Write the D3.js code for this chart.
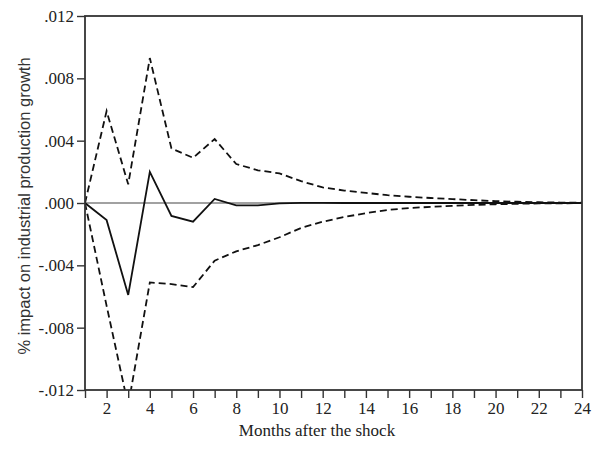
<!DOCTYPE html>
<html>
<head>
<meta charset="utf-8">
<script src="https://cdn.jsdelivr.net/npm/d3@7"></script>
<style>
  html, body { margin: 0; padding: 0; background: #fff; }
  svg { display: block; }
</style>
</head>
<body>
<svg id="chart" width="592" height="449"></svg>
<script>
// ---- data ----
const months = d3.range(1, 25);
const irf = [0, -0.0011, -0.0059, 0.0020, -0.00083, -0.0012, 0.00026, -0.00015, -0.00015, -0.00003,
             0.00001, 0.00001, 0, 0, 0, 0, 0, 0, 0, 0, 0, 0, 0, 0];
const upper = [0, 0.0059, 0.0012, 0.0093, 0.0035, 0.0029, 0.0041, 0.0025, 0.0021, 0.0019,
               0.0014, 0.0010, 0.0008, 0.00065, 0.0005, 0.0004, 0.00032, 0.00025, 0.00018, 0.00012,
               0.00008, 0.00005, 0.00003, 0.00002];
const lower = [0, -0.0066, -0.0130, -0.0051, -0.0052, -0.0054, -0.0037, -0.0031, -0.0027, -0.0022,
               -0.0016, -0.0012, -0.0009, -0.00065, -0.00045, -0.00032, -0.00025, -0.00018, -0.00012, -0.00008,
               -0.00005, -0.00003, -0.00002, -0.00001];
const yTicks = [-0.012, -0.008, -0.004, 0, 0.004, 0.008, 0.012];
const xLabelTicks = [2, 4, 6, 8, 10, 12, 14, 16, 18, 20, 22, 24];
const xTitle = "Months after the shock";
const yTitle = "% impact on industrial production growth";

// ---- layout ----
const pL = 85, pR = 582, pT = 16, pB = 390;
const svg = d3.select("#chart");
const x = d3.scaleLinear().domain([1, 24]).range([pL, pR]);
const y = d3.scaleLinear().domain([-0.012, 0.012]).range([pB, pT]);

const serif = "'Liberation Serif', 'Times New Roman', serif";
const sans = "'Liberation Sans', Arial, sans-serif";

svg.append("defs").append("clipPath").attr("id", "plotclip")
  .append("rect").attr("x", pL).attr("y", pT)
  .attr("width", pR - pL).attr("height", pB - pT);

// zero line
svg.append("line")
  .attr("x1", pL).attr("x2", pR)
  .attr("y1", y(0)).attr("y2", y(0))
  .attr("stroke", "#444").attr("stroke-width", 1.2);

const g = svg.append("g").attr("clip-path", "url(#plotclip)");
const line = vals => d3.line().x((d, i) => x(months[i])).y(d => y(d))(vals);

g.append("path").attr("d", line(upper))
  .attr("fill", "none").attr("stroke", "#111").attr("stroke-width", 1.8)
  .attr("stroke-dasharray", "7,4");
g.append("path").attr("d", line(lower))
  .attr("fill", "none").attr("stroke", "#111").attr("stroke-width", 1.8)
  .attr("stroke-dasharray", "7,4");
g.append("path").attr("d", line(irf))
  .attr("fill", "none").attr("stroke", "#111").attr("stroke-width", 1.8);

// frame
svg.append("rect")
  .attr("x", pL).attr("y", pT)
  .attr("width", pR - pL).attr("height", pB - pT)
  .attr("fill", "none").attr("stroke", "#333").attr("stroke-width", 1.8);

// y axis
const fmt = v => d3.format(".3f")(v).replace("\u2212", "-").replace("0.", ".");
const yAxis = svg.append("g").attr("transform", `translate(${pL},0)`)
  .call(d3.axisLeft(y).tickValues(yTicks).tickFormat(fmt).tickSize(8).tickPadding(3));
yAxis.select(".domain").remove();
yAxis.selectAll("line").attr("stroke", "#333").attr("stroke-width", 1.4);
yAxis.selectAll("text").attr("font-family", serif).attr("font-size", 17).attr("fill", "#222");

// x axis
const xAxis = svg.append("g").attr("transform", `translate(0,${pB})`)
  .call(d3.axisBottom(x).tickValues(months)
    .tickFormat(d => xLabelTicks.includes(d) ? d : "").tickSize(8).tickPadding(4));
xAxis.select(".domain").remove();
xAxis.selectAll("line").attr("stroke", "#333").attr("stroke-width", 1.4);
xAxis.selectAll("text").attr("font-family", serif).attr("font-size", 17).attr("fill", "#222");

// titles
svg.append("text")
  .attr("x", 317).attr("y", 436)
  .attr("text-anchor", "middle")
  .attr("font-family", serif).attr("font-size", 17).attr("fill", "#222")
  .text(xTitle);

svg.append("text")
  .attr("transform", "translate(30,206) rotate(-90)")
  .attr("text-anchor", "middle")
  .attr("font-family", sans).attr("font-size", 16.5).attr("fill", "#333")
  .text(yTitle);
</script>
</body>
</html>
